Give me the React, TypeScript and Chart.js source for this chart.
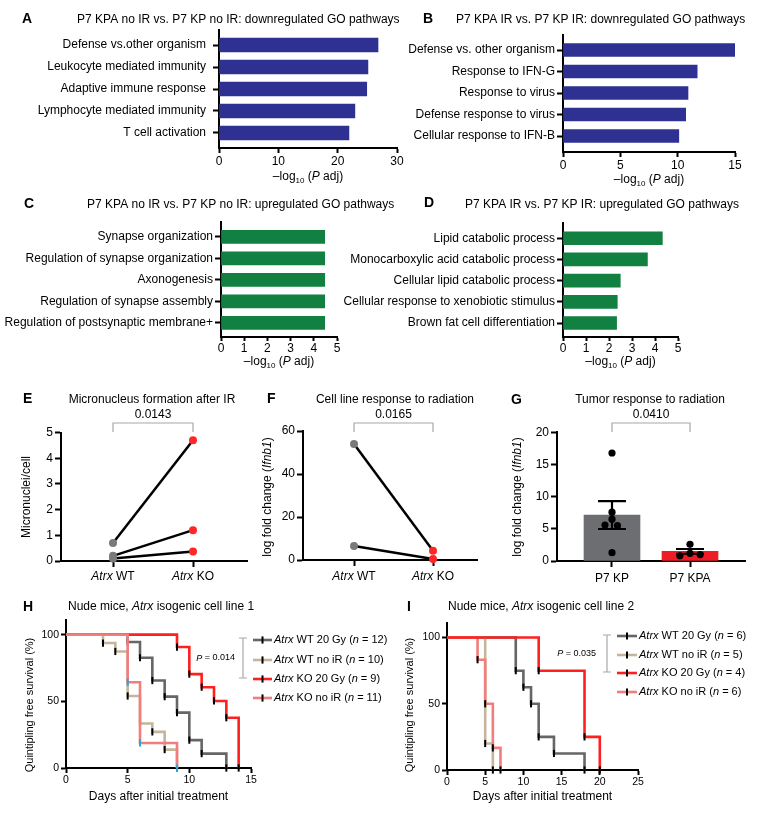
import React, { useEffect, useRef } from 'react';
import { Chart, registerables } from 'chart.js';

Chart.register(...registerables);

const FAMILY = "'Liberation Sans', Arial, Helvetica, sans-serif";
Chart.defaults.font.family = FAMILY;
Chart.defaults.font.size = 12;
Chart.defaults.color = '#000';

// ---------------- DATA ----------------
// A
const aTitle = 'P7 KPA no IR vs. P7 KP no IR: downregulated GO pathways';
const aLabels = ['Defense vs.other organism', 'Leukocyte mediated immunity', 'Adaptive immune response', 'Lymphocyte mediated immunity', 'T cell activation'];
const aValues = [26.8, 25.1, 24.9, 22.9, 21.9];
// B
const bTitle = 'P7 KPA IR vs. P7 KP IR: downregulated GO pathways';
const bLabels = ['Defense vs. other organism', 'Response to IFN-G', 'Response to virus', 'Defense response to virus', 'Cellular response to IFN-B'];
const bValues = [15.0, 11.7, 10.9, 10.7, 10.1];
// C
const cTitle = 'P7 KPA no IR vs. P7 KP no IR: upregulated GO pathways';
const cLabels = ['Synapse organization', 'Regulation of synapse organization', 'Axonogenesis', 'Regulation of synapse assembly', 'Regulation of postsynaptic membrane+'];
const cValues = [4.47, 4.47, 4.47, 4.47, 4.47];
// D
const dTitle = 'P7 KPA IR vs. P7 KP IR: upregulated GO pathways';
const dLabels = ['Lipid catabolic process', 'Monocarboxylic acid catabolic process', 'Cellular lipid catabolic process', 'Cellular response to xenobiotic stimulus', 'Brown fat cell differentiation'];
const dValues = [4.32, 3.67, 2.49, 2.36, 2.33];
// E
const eTitle = 'Micronucleus formation after IR';
const eGroups = ['WT', 'KO'];
const eWT = [0.7, 0.2, 0.1];
const eKO = [4.7, 1.2, 0.37];
const eP = '0.0143';
// F
const fTitle = 'Cell line response to radiation';
const fWT = [54, 6.5];
const fKO = [4.3, 0.5];
const fP = '0.0165';
// G
const gTitle = 'Tumor response to radiation';
const gGroups = ['P7 KP', 'P7 KPA'];
const gMean = [7.15, 1.5];
const gSem = [2.17, 0.37];
const gKP = [16.8, 7.6, 6.5, 5.6, 5.5, 1.3];
const gKPJitter = [0, 0, 0, -0.09, 0.07, 0];
const gKPA = [2.6, 1.2, 0.8, 1.0];
const gKPAJitter = [0, 0, -0.13, 0.13];
const gP = '0.0410';
// H / I (Kaplan-Meier)
const kmGroups = ['WT 20 Gy', 'WT no iR', 'KO 20 Gy', 'KO no iR'];
const hN = [12, 10, 9, 11];
const hDays = [
  [0, 5, 6, 7, 8, 9, 10, 11, 13],
  [0, 3, 4, 5, 6, 7, 8, 9],
  [0, 9, 10, 11, 12, 13, 14],
  [0, 5, 6, 9],
];
const hSurv = [
  [100, 94.5, 82.7, 65.6, 53.5, 41.5, 20.9, 10.8, 0],
  [100, 93.7, 87.4, 54, 33.4, 27.1, 13.8, 0],
  [100, 90.7, 70.4, 60.6, 50.3, 37.7, 0],
  [100, 64.3, 18.8, 0],
];
const hP = '0.014';
const iN = [6, 5, 4, 6];
const iDays = [
  [0, 9, 10, 11, 12, 14, 18],
  [0, 5, 6],
  [0, 12, 18, 20],
  [0, 4, 5, 6, 7],
];
const iSurv = [
  [100, 75, 62.5, 50, 25, 12.5, 0],
  [100, 20, 0],
  [100, 75, 25, 0],
  [100, 83.3, 50, 16.7, 0],
];
const iP = '0.035';

// ---------------- STYLE ----------------
const BLUE = '#2E3192';
const GREEN = '#118040';
const BAR_GRAY = '#6D6E71';
const BAR_RED = '#EE1C25';
const PT_GRAY = '#7A7A7A';
const PT_RED = '#FF2626';
const KM_COLORS = ['#666666', '#C4B59B', '#FF1F1F', '#F17D7D'];
const BRACKET = '#A8A8A8';

type Seg = { t: string; i?: boolean; b?: boolean; sub?: boolean };

function fontFor(s: Seg, size: number) {
  const sz = s.sub ? Math.round(size * 0.7) : size;
  return `${s.i ? 'italic ' : ''}${s.b ? 'bold ' : ''}${sz}px ${FAMILY}`;
}

function drawRich(ctx: CanvasRenderingContext2D, segs: Seg[], x: number, y: number, size: number,
  align: 'left' | 'center' | 'right' = 'left', rotate = false, color = '#000') {
  ctx.save();
  ctx.fillStyle = color;
  ctx.textBaseline = 'middle';
  ctx.textAlign = 'left';
  let total = 0;
  const widths = segs.map((s) => { ctx.font = fontFor(s, size); const w = ctx.measureText(s.t).width; total += w; return w; });
  ctx.translate(x, y);
  if (rotate) ctx.rotate(-Math.PI / 2);
  let cx = align === 'left' ? 0 : align === 'center' ? -total / 2 : -total;
  segs.forEach((s, k) => { ctx.font = fontFor(s, size); ctx.fillText(s.t, cx, s.sub ? size * 0.35 : 0); cx += widths[k]; });
  ctx.restore();
}

function drawBracket(ctx: CanvasRenderingContext2D, x1: number, x2: number, yTop: number, yBot: number) {
  ctx.save();
  ctx.strokeStyle = BRACKET;
  ctx.lineWidth = 1.2;
  ctx.beginPath();
  ctx.moveTo(x1, yBot); ctx.lineTo(x1, yTop); ctx.lineTo(x2, yTop); ctx.lineTo(x2, yBot);
  ctx.stroke();
  ctx.restore();
}

const LOG_TITLE: Seg[] = [{ t: '\u2013log' }, { t: '10', sub: true }, { t: ' (' }, { t: 'P', i: true }, { t: ' adj)' }];
const IFNB_TITLE: Seg[] = [{ t: 'log fold change (' }, { t: 'Ifnb1', i: true }, { t: ')' }];

const axisBase = (tickLength: number) => ({
  offset: false,
  grid: { display: true, drawOnChartArea: false, drawTicks: true, tickLength, tickWidth: 2, tickColor: '#000', offset: false },
  border: { display: true, width: 2, color: '#000' },
});

type PanelDef = { x: number; y: number; w: number; h: number; make: () => any };

const baseOptions = (o: any) => ({
  animation: false,
  responsive: false,
  events: [],
  layout: { autoPadding: false, padding: { left: 0, right: o.w - o.right, top: o.top, bottom: 0 } },
  plugins: { legend: { display: false }, tooltip: { enabled: false }, title: { display: false } },
});

// ---------- horizontal bar panels (A-D) ----------
function hbarPanel(o: any): PanelDef {
  return {
    x: o.x, y: o.y, w: o.w, h: o.h,
    make: () => ({
      type: 'bar',
      data: {
        datasets: [{
          data: o.values.map((v: number, i: number) => ({ x: v, y: i })),
          backgroundColor: o.color, barThickness: o.barT, borderWidth: 0,
        }],
      },
      options: {
        ...baseOptions(o),
        indexAxis: 'y',
        scales: {
          x: {
            ...axisBase(o.xTick), type: 'linear', min: 0, max: o.max,
            ticks: { stepSize: o.step, padding: o.xPad, color: '#000', font: { size: 12 }, maxRotation: 0 },
            afterFit: (s: any) => { s.height = o.h - o.bottom; },
          },
          y: {
            ...axisBase(6), type: 'linear', reverse: true, min: o.yMin, max: o.yMax,
            afterBuildTicks: (s: any) => { s.ticks = o.labels.map((_: string, i: number) => ({ value: i })); },
            ticks: { autoSkip: false, padding: o.labelPad, color: '#000', font: { size: 12 }, callback: (v: number) => o.labels[v] },
            afterFit: (s: any) => { s.width = o.left; },
          },
        },
      },
      plugins: [{
        id: 'deco',
        afterDraw(chart: any) {
          const ctx = chart.ctx; const ca = chart.chartArea;
          drawRich(ctx, [{ t: o.letter, b: true }], o.lx, o.ly, 14);
          drawRich(ctx, [{ t: o.title }], o.tx, o.ty, 12);
          drawRich(ctx, LOG_TITLE, (ca.left + ca.right) / 2, o.axY, 12, 'center');
        },
      }],
    }),
  };
}

const panelA = hbarPanel({ x: 0, y: 0, w: 420, h: 190, left: 219, right: 397, top: 30, bottom: 148, yMin: -0.682, yMax: 4.682,
  labels: aLabels, values: aValues, color: BLUE, max: 30, step: 10, barT: 14, labelPad: 7, xTick: 5, xPad: 1,
  letter: 'A', lx: 22, ly: 19, title: aTitle, tx: 77, ty: 20, axY: 177 });
const panelB = hbarPanel({ x: 380, y: 0, w: 381, h: 190, left: 183, right: 355, top: 35, bottom: 152, yMin: -0.7, yMax: 4.744,
  labels: bLabels, values: bValues, color: BLUE, max: 15, step: 5, barT: 13, labelPad: 2, xTick: 5, xPad: 1,
  letter: 'B', lx: 43, ly: 19, title: bTitle, tx: 76, ty: 20, axY: 180 });
const panelC = hbarPanel({ x: 0, y: 185, w: 420, h: 185, left: 221, right: 337, top: 37, bottom: 152, yMin: -0.69, yMax: 4.66,
  labels: cLabels, values: cValues, color: GREEN, max: 5, step: 1, barT: 13, labelPad: 2, xTick: 4, xPad: 0,
  letter: 'C', lx: 24, ly: 19, title: cTitle, tx: 87, ty: 20, axY: 177 });
const panelD = hbarPanel({ x: 330, y: 185, w: 431, h: 185, left: 233, right: 348, top: 38, bottom: 152, yMin: -0.72, yMax: 4.66,
  labels: dLabels, values: dValues, color: GREEN, max: 5, step: 1, barT: 13, labelPad: 2, xTick: 4, xPad: 0,
  letter: 'D', lx: 94, ly: 18, title: dTitle, tx: 135, ty: 20, axY: 177 });

// ---------- paired panels (E, F) ----------
function pairPanel(o: any): PanelDef {
  return {
    x: o.x, y: o.y, w: o.w, h: o.h,
    make: () => ({
      type: 'line',
      data: {
        datasets: o.wt.map((w: number, k: number) => ({
          data: [{ x: 1, y: w }, { x: 2, y: o.ko[k] }],
          borderColor: '#000', borderWidth: 2.5,
          pointRadius: 4, pointBorderWidth: 0,
          pointBackgroundColor: [PT_GRAY, PT_RED], pointBorderColor: [PT_GRAY, PT_RED],
          clip: false,
        })),
      },
      options: {
        ...baseOptions(o),
        scales: {
          x: {
            ...axisBase(6), type: 'linear', min: o.xMin, max: o.xMax,
            afterBuildTicks: (s: any) => { s.ticks = [{ value: 1 }, { value: 2 }]; },
            ticks: { display: false },
            afterFit: (s: any) => { s.height = o.h - o.bottom; },
          },
          y: {
            ...axisBase(6), type: 'linear', min: 0, max: o.yMax,
            ticks: { stepSize: o.yStep, padding: 2, color: '#000', font: { size: 12 } },
            afterFit: (s: any) => { s.width = o.left; },
          },
        },
      },
      plugins: [{
        id: 'deco',
        afterDraw(chart: any) {
          const ctx = chart.ctx; const sx = chart.scales.x;
          const x1 = sx.getPixelForValue(1); const x2 = sx.getPixelForValue(2);
          drawRich(ctx, [{ t: o.letter, b: true }], o.lx, o.ly, 14);
          drawRich(ctx, [{ t: o.title }], o.tcx, 20, 12, 'center');
          drawBracket(ctx, x1, x2, 43, 52);
          drawRich(ctx, [{ t: o.p }], (x1 + x2) / 2, 35, 12, 'center');
          drawRich(ctx, o.yTitle, o.ytx, 117, 12, 'center', true);
          eGroups.forEach((g, i) => {
            drawRich(ctx, [{ t: 'Atrx', i: true }, { t: ' ' + g }], sx.getPixelForValue(i + 1), 197, 12, 'center');
          });
        },
      }],
    }),
  };
}

const panelE = pairPanel({ x: 0, y: 380, w: 250, h: 215, left: 61, right: 247, top: 52.5, bottom: 181,
  xMin: 0.35, xMax: 2.675, yMax: 5, yStep: 1, wt: eWT, ko: eKO, letter: 'E', lx: 23, ly: 19,
  title: eTitle, tcx: 152, p: eP, yTitle: [{ t: 'Micronuclei/cell' }], ytx: 27 });
const panelF = pairPanel({ x: 250, y: 380, w: 250, h: 215, left: 53, right: 227, top: 51, bottom: 180,
  xMin: 0.354, xMax: 2.557, yMax: 60, yStep: 20, wt: fWT, ko: fKO, letter: 'F', lx: 17, ly: 19,
  title: fTitle, tcx: 145, p: fP, yTitle: IFNB_TITLE, ytx: 18 });

// ---------- bar + points panel (G) ----------
const gOpt = { x: 500, y: 380, w: 261, h: 215, left: 57, right: 245, top: 52.4, bottom: 181 };
const panelG: PanelDef = {
  x: gOpt.x, y: gOpt.y, w: gOpt.w, h: gOpt.h,
  make: () => ({
    type: 'bar',
    data: {
      datasets: [
        {
          type: 'scatter', order: 0,
          data: [
            ...gKP.map((v, k) => ({ x: 1 + gKPJitter[k], y: v })),
            ...gKPA.map((v, k) => ({ x: 2 + gKPAJitter[k], y: v })),
          ],
          pointRadius: 3.6, pointBackgroundColor: '#000', pointBorderWidth: 0, clip: false,
        },
        {
          type: 'bar', order: 1,
          data: gMean.map((m, i) => ({ x: i + 1, y: m })),
          backgroundColor: [BAR_GRAY, BAR_RED], barThickness: 56, borderWidth: 0,
        },
      ],
    },
    options: {
      ...baseOptions(gOpt),
      scales: {
        x: {
          ...axisBase(6), type: 'linear', min: 0.295, max: 2.705,
          afterBuildTicks: (s: any) => { s.ticks = [{ value: 1 }, { value: 2 }]; },
          ticks: { padding: 4, color: '#000', font: { size: 12 }, callback: (v: number) => gGroups[v - 1] },
          afterFit: (s: any) => { s.height = gOpt.h - gOpt.bottom; },
        },
        y: {
          ...axisBase(6), type: 'linear', min: 0, max: 20,
          ticks: { stepSize: 5, padding: 2, color: '#000', font: { size: 12 } },
          afterFit: (s: any) => { s.width = gOpt.left; },
        },
      },
    },
    plugins: [{
      id: 'deco',
      afterDatasetsDraw(chart: any) {
        const ctx = chart.ctx; const sx = chart.scales.x; const sy = chart.scales.y;
        ctx.save();
        ctx.strokeStyle = '#000';
        ctx.lineWidth = 2.2;
        gMean.forEach((m, i) => {
          const x = sx.getPixelForValue(i + 1);
          const yt = sy.getPixelForValue(m + gSem[i]);
          const yb = sy.getPixelForValue(m - gSem[i]);
          ctx.beginPath();
          ctx.moveTo(x, yt); ctx.lineTo(x, yb);
          ctx.moveTo(x - 14, yt); ctx.lineTo(x + 14, yt);
          ctx.moveTo(x - 14, yb); ctx.lineTo(x + 14, yb);
          ctx.stroke();
        });
        ctx.restore();
      },
      afterDraw(chart: any) {
        const ctx = chart.ctx; const sx = chart.scales.x;
        const x1 = sx.getPixelForValue(1); const x2 = sx.getPixelForValue(2);
        drawRich(ctx, [{ t: 'G', b: true }], 11, 20, 14);
        drawRich(ctx, [{ t: gTitle }], 150, 20, 12, 'center');
        drawBracket(ctx, x1, x2, 43, 52);
        drawRich(ctx, [{ t: gP }], (x1 + x2) / 2, 35, 12, 'center');
        drawRich(ctx, IFNB_TITLE, 18, 117, 12, 'center', true);
      },
    }],
  }),
};

// ---------- Kaplan-Meier panels (H, I) ----------
function kmPanel(o: any): PanelDef {
  return {
    x: o.x, y: o.y, w: o.w, h: o.h,
    make: () => ({
      type: 'line',
      data: {
        datasets: o.days.map((ds: number[], k: number) => ({
          label: kmGroups[k],
          order: o.order[k],
          data: ds.map((d, j) => ({ x: d, y: o.surv[k][j] })),
          stepped: 'before',
          borderColor: KM_COLORS[k], borderWidth: 2.6, fill: false,
          pointStyle: 'line', pointRotation: 90,
          pointRadius: ds.map((_, j) => (j === 0 ? 0 : 3.6)),
          pointBorderWidth: 2, pointBorderColor: o.tickColors[k], pointBackgroundColor: o.tickColors[k],
          clip: false,
        })),
      },
      options: {
        ...baseOptions(o),
        scales: {
          x: {
            ...axisBase(5), type: 'linear', min: 0, max: o.xMax,
            ticks: { stepSize: 5, padding: 1, color: '#000', font: { size: 10.5 }, maxRotation: 0 },
            afterFit: (s: any) => { s.height = o.h - o.bottom; },
          },
          y: {
            ...axisBase(5), type: 'linear', min: 0, max: 111,
            afterBuildTicks: (s: any) => { s.ticks = [0, 50, 100].map((v) => ({ value: v })); },
            ticks: { padding: 2, color: '#000', font: { size: 10.5 } },
            afterFit: (s: any) => { s.width = o.left; },
          },
        },
      },
      plugins: [{
        id: 'deco',
        afterDraw(chart: any) {
          const ctx = chart.ctx; const ca = chart.chartArea;
          drawRich(ctx, [{ t: o.letter, b: true }], o.lx, 12, 14);
          drawRich(ctx, [{ t: 'Nude mice, ' }, { t: 'Atrx', i: true }, { t: o.titleEnd }], 68, 12, 12);
          drawRich(ctx, [{ t: 'Quintipling free survival (%)' }], 30, 110, 11, 'center', true);
          drawRich(ctx, [{ t: 'Days after initial treatment' }], (ca.left + ca.right) / 2, 202, 12, 'center');
          // legend
          kmGroups.forEach((g, k) => {
            const y = o.legY[k];
            ctx.save();
            ctx.strokeStyle = KM_COLORS[k];
            ctx.lineWidth = 2.6;
            ctx.beginPath(); ctx.moveTo(o.swX0, y); ctx.lineTo(o.swX1, y); ctx.stroke();
            ctx.strokeStyle = '#000';
            ctx.lineWidth = 2;
            const mx = (o.swX0 + o.swX1) / 2;
            ctx.beginPath(); ctx.moveTo(mx, y - 3.6); ctx.lineTo(mx, y + 3.6); ctx.stroke();
            ctx.restore();
            drawRich(ctx, [{ t: 'Atrx', i: true }, { t: ` ${g} (` }, { t: 'n', i: true }, { t: ` = ${o.n[k]})` }], o.txX, y, 11);
          });
          // p bracket
          ctx.save();
          ctx.strokeStyle = BRACKET;
          ctx.lineWidth = 1.2;
          ctx.beginPath();
          ctx.moveTo(o.bx - 4, o.by0); ctx.lineTo(o.bx + 4, o.by0);
          ctx.moveTo(o.bx, o.by0); ctx.lineTo(o.bx, o.by1);
          ctx.moveTo(o.bx - 4, o.by1); ctx.lineTo(o.bx + 4, o.by1);
          ctx.stroke();
          ctx.restore();
          drawRich(ctx, [{ t: 'P', i: true }, { t: ` = ${o.p}` }], o.px, (o.by0 + o.by1) / 2, 9, 'right');
        },
      }],
    }),
  };
}

const panelH = kmPanel({ x: 0, y: 595, w: 400, h: 221, left: 66, right: 251, top: 25, bottom: 173, xMax: 15,
  days: hDays, surv: hSurv, n: hN, order: [3, 2, 1, 0], tickColors: ['#000', '#000', '#000', '#2AA7D4'],
  letter: 'H', lx: 23, titleEnd: ' isogenic cell line 1',
  legY: [45, 65, 84, 103], swX0: 253, swX1: 272, txX: 274, bx: 243, by0: 43, by1: 83, px: 235, p: hP });
const panelI = kmPanel({ x: 380, y: 595, w: 381, h: 221, left: 67, right: 258, top: 28, bottom: 175, xMax: 25,
  days: iDays, surv: iSurv, n: iN, order: [3, 2, 0, 1], tickColors: ['#000', '#000', '#000', '#000'],
  letter: 'I', lx: 27, titleEnd: ' isogenic cell line 2',
  legY: [41, 60, 78, 97], swX0: 237, swX1: 257, txX: 259, bx: 227, by0: 40, by1: 77, px: 216, p: iP });

const PANELS: PanelDef[] = [panelA, panelB, panelC, panelD, panelE, panelF, panelG, panelH, panelI];

function ChartCanvas({ def }: { def: PanelDef }) {
  const ref = useRef<HTMLCanvasElement | null>(null);
  useEffect(() => {
    if (!ref.current) return;
    const chart = new Chart(ref.current, def.make());
    return () => chart.destroy();
  }, [def]);
  return (
    <canvas ref={ref} width={def.w} height={def.h}
      style={{ position: 'absolute', left: def.x, top: def.y, width: def.w, height: def.h }} />
  );
}

export default function App() {
  return (
    <div style={{ position: 'absolute', left: 0, top: 0, width: 761, height: 816, background: '#fff', overflow: 'hidden' }}>
      {PANELS.map((p, i) => <ChartCanvas key={i} def={p} />)}
    </div>
  );
}
